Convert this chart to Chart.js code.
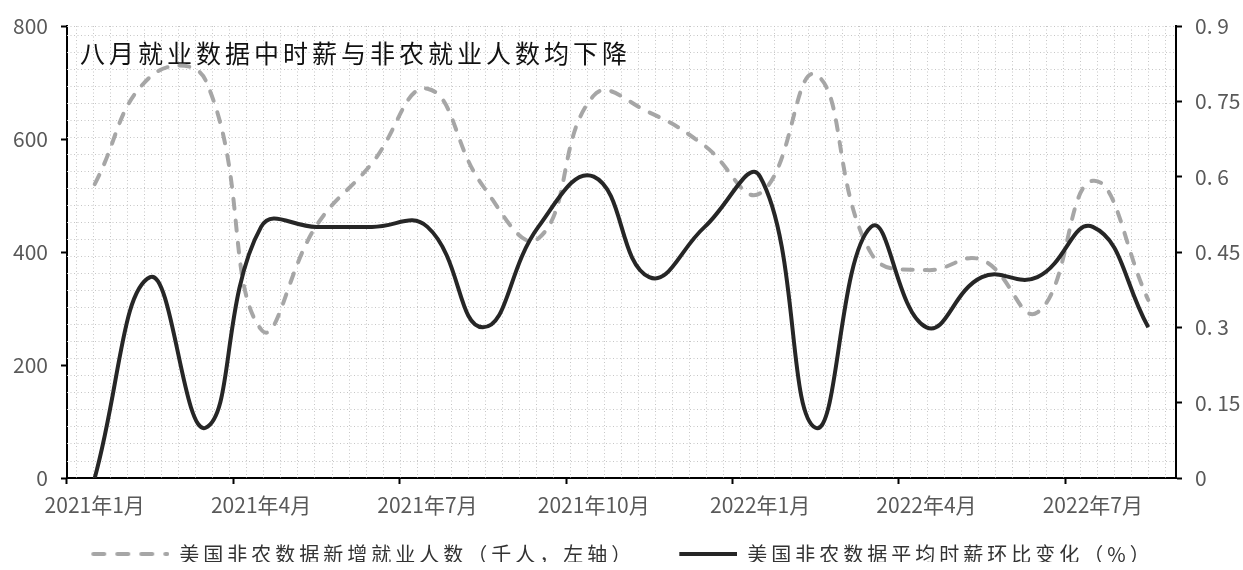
<!DOCTYPE html>
<html>
<head>
<meta charset="utf-8">
<script src="https://cdn.jsdelivr.net/npm/chart.js@4.4.1/dist/chart.umd.min.js"></script>
<style>
  html, body { margin: 0; padding: 0; background: #ffffff; }
  #wrap { width: 1243px; height: 570px; }
</style>
</head>
<body>
<div id="wrap"><canvas id="c" width="1243" height="570"></canvas></div>
<script>
// Months on the x axis (Jan 2021 – Aug 2022)
const months = [
  '2021年1月', '2021年2月', '2021年3月', '2021年4月', '2021年5月', '2021年6月',
  '2021年7月', '2021年8月', '2021年9月', '2021年10月', '2021年11月', '2021年12月',
  '2022年1月', '2022年2月', '2022年3月', '2022年4月', '2022年5月', '2022年6月',
  '2022年7月', '2022年8月'
];
// Nonfarm payroll additions, thousands (left axis)
const payrolls = [520, 710, 704, 263, 447, 557, 689, 517, 424, 677, 647, 588,
                  504, 714, 398, 368, 386, 293, 526, 315];
// Average hourly earnings, month-on-month change in % (right axis)
const wageMoM = [0, 0.4, 0.1, 0.5, 0.5, 0.5, 0.5, 0.3, 0.5, 0.6, 0.4, 0.5,
                 0.6, 0.1, 0.5, 0.3, 0.4, 0.4, 0.5, 0.3];

const leftTicks = [0, 200, 400, 600, 800];
const rightTicks = [0, 0.15, 0.3, 0.45, 0.6, 0.75, 0.9];
const rightTickLabels = ['0', '0. 15', '0. 3', '0. 45', '0. 6', '0. 75', '0. 9'];
const seriesNames = ['美国非农数据新增就业人数（千人，左轴）', '美国非农数据平均时薪环比变化（%）'];
const titleText = '八月就业数据中时薪与非农就业人数均下降';

const FONT = "'Noto Sans CJK SC', 'Noto Sans', sans-serif";
const GRAY_LINE = '#a6a6a6';
const DARK_LINE = '#262626';
const SWATCH_W = 80;

// Small legend swatches: dashed gray line, and a shorter solid dark line sitting at the right end
function swatch(color, dash, from) {
  const cv = document.createElement('canvas');
  cv.width = SWATCH_W; cv.height = 8;
  const g = cv.getContext('2d');
  g.strokeStyle = color; g.lineWidth = 4; g.lineCap = dash ? 'round' : 'butt';
  g.setLineDash(dash || []);
  g.beginPath(); g.moveTo(from, 4); g.lineTo(SWATCH_W - (dash ? 2 : 0), 4); g.stroke();
  return cv;
}
const dashSwatch = swatch(GRAY_LINE, [11, 13], 4);
const solidSwatch = swatch(DARK_LINE, null, 22);

// Dotted background grid and the heading inside the plot area
const plotDecor = {
  id: 'plotDecor',
  beforeDatasetsDraw(chart) {
    const { ctx, chartArea: a } = chart;
    const step = 17.02;
    ctx.save();
    ctx.beginPath(); ctx.rect(a.left, a.top, a.right - a.left, a.bottom - a.top); ctx.clip();
    ctx.strokeStyle = '#c6c6c6';
    ctx.lineWidth = 1;
    ctx.setLineDash([1, 2.5]);
    ctx.beginPath();
    for (let x = a.left + 9.2; x < a.right; x += step) {
      const px = Math.round(x) + 0.5;
      ctx.moveTo(px, a.top); ctx.lineTo(px, a.bottom);
    }
    for (let y = a.bottom - 17.5; y > a.top; y -= step) {
      const py = Math.round(y) + 0.5;
      ctx.moveTo(a.left, py); ctx.lineTo(a.right, py);
    }
    ctx.moveTo(a.left, a.top + 0.5); ctx.lineTo(a.right, a.top + 0.5);
    ctx.stroke();
    ctx.restore();

    ctx.save();
    ctx.font = "25px " + FONT;
    ctx.letterSpacing = '4px';
    ctx.fillStyle = '#111111';
    ctx.textBaseline = 'middle';
    ctx.textAlign = 'left';
    ctx.fillText(titleText, a.left + 13, a.top + 27);
    ctx.restore();
  },
  beforeUpdate(chart) {
    // widen the legend lettering, both when measuring and drawing
    const lg = chart.legend;
    if (!lg || lg._spaced) return;
    lg._spaced = true;
    const fit = lg.fit, draw = lg.draw;
    lg.fit = function () {
      this.ctx.save(); this.ctx.letterSpacing = '4px';
      fit.apply(this, arguments);
      this.ctx.restore();
      this.height = 40;
    };
    lg.draw = function () {
      this.ctx.save();
      this.ctx.letterSpacing = '4px';
      this.ctx.translate(0, -8);
      draw.apply(this, arguments);
      this.ctx.restore();
    };
  }
};

const tickFont = { family: FONT, size: 21 };

new Chart(document.getElementById('c'), {
  type: 'line',
  data: {
    labels: months,
    datasets: [
      {
        label: seriesNames[0],
        data: payrolls,
        yAxisID: 'y',
        borderColor: GRAY_LINE,
        backgroundColor: GRAY_LINE,
        borderWidth: 4,
        borderDash: [10, 12],
        borderCapStyle: 'round',
        pointRadius: 0,
        pointStyle: dashSwatch,
        tension: 0.45,
        order: 2
      },
      {
        label: seriesNames[1],
        data: wageMoM,
        yAxisID: 'y1',
        borderColor: DARK_LINE,
        backgroundColor: DARK_LINE,
        borderWidth: 4,
        pointRadius: 0,
        pointStyle: solidSwatch,
        tension: 0.45,
        order: 1
      }
    ]
  },
  options: {
    responsive: false,
    animation: false,
    devicePixelRatio: 1,
    layout: { padding: { top: 26, left: 0, right: 0, bottom: 0 } },
    plugins: {
      tooltip: { enabled: false },
      title: { display: false },
      legend: {
        position: 'bottom',
        labels: {
          usePointStyle: true,
          pointStyleWidth: SWATCH_W,
          padding: 22,
          color: '#333333',
          font: { family: FONT, size: 20 },
          sort: (a, b) => a.datasetIndex - b.datasetIndex
        }
      }
    },
    scales: {
      x: {
        type: 'category',
        offset: true,
        grid: {
          offset: true,
          drawOnChartArea: false,
          tickLength: 6,
          tickWidth: 2,
          tickColor: (c) => (c.index % 3 === 0 ? '#000000' : 'rgba(0,0,0,0)')
        },
        border: { color: '#000000', width: 2 },
        ticks: {
          autoSkip: false,
          maxRotation: 0,
          minRotation: 0,
          padding: 8,
          color: '#595959',
          font: tickFont,
          callback: (v, i) => (i % 3 === 0 ? months[i] : '')
        },
        afterFit: (s) => { s.height = 52; }
      },
      y: {
        position: 'left',
        min: 0,
        max: 800,
        afterBuildTicks: (s) => { s.ticks = leftTicks.map((v) => ({ value: v })); },
        grid: { drawOnChartArea: false, tickLength: 6, tickWidth: 2, tickColor: '#000000' },
        border: { color: '#000000', width: 2 },
        ticks: { padding: 13, color: '#595959', font: tickFont },
        afterFit: (s) => { s.width = 67; }
      },
      y1: {
        position: 'right',
        min: 0,
        max: 0.9,
        afterBuildTicks: (s) => { s.ticks = rightTicks.map((v) => ({ value: v })); },
        grid: { drawOnChartArea: false, tickLength: 6, tickWidth: 2, tickColor: '#000000' },
        border: { color: '#000000', width: 2 },
        ticks: {
          padding: 13,
          color: '#595959',
          font: tickFont,
          callback: (v, i) => rightTickLabels[i]
        },
        afterFit: (s) => { s.width = 67; }
      }
    }
  },
  plugins: [plotDecor]
});
</script>
</body>
</html>
